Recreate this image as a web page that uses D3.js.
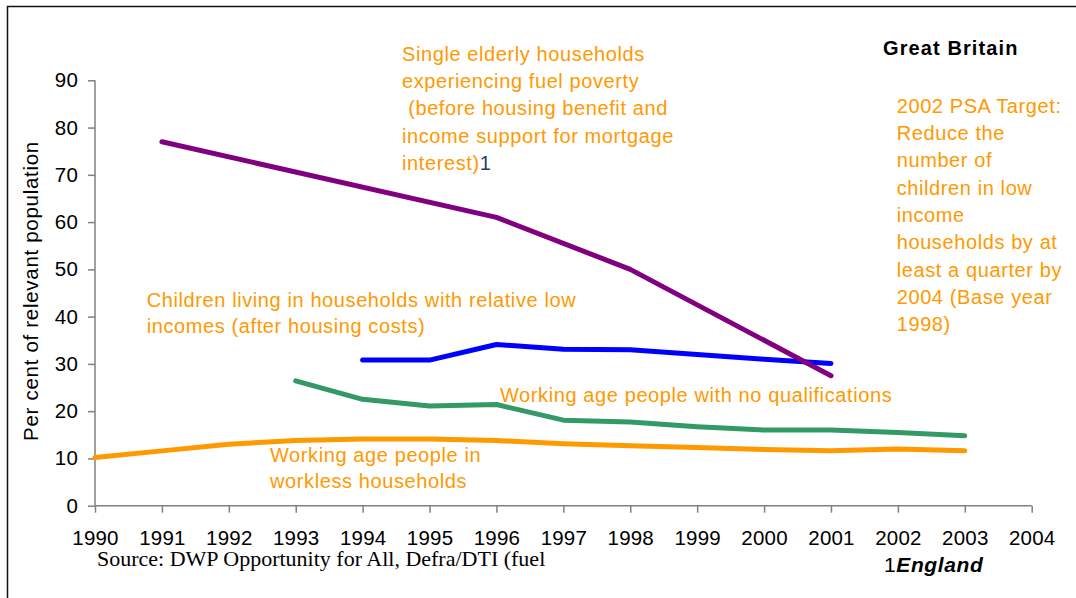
<!DOCTYPE html>
<meta charset="utf-8">
<style>
body { margin: 0; background: #fff; }
svg { display: block; }
text { font-family: Arial, "Liberation Sans", sans-serif; }
.axis path, .axis line { stroke: #808080; stroke-width: 1.5px; }
.axis text { font-size: 20.5px; letter-spacing: 0.2px; fill: #000; }
.note { font-size: 20px; letter-spacing: 0.6px; fill: #ff9900; }
</style>
<svg width="1076" height="598"></svg>
<script src="https://cdn.jsdelivr.net/npm/d3@7"></script>
<script>

var years = d3.range(1990, 2005)
var yTicks = d3.range(0, 100, 10)

// fuel poverty, single elderly households (England)
var fuelYears = [1991, 1996, 1998, 2001]
var fuelVals = [77, 61, 50, 27.5]

// children in low income households (AHC)
var childYears = [1994, 1995, 1996, 1997, 1998, 1999, 2000, 2001]
var childVals = [30.8, 30.8, 34.1, 33.1, 33, 32, 31, 30.1]

// working age with no qualifications
var qualYears = [1993, 1994, 1995, 1996, 1997, 1998, 1999, 2000, 2001, 2002, 2003]
var qualVals = [26.4, 22.5, 21.1, 21.4, 18.1, 17.7, 16.7, 16, 16, 15.5, 14.8]

// working age in workless households
var worklessYears = [1990, 1991, 1992, 1993, 1994, 1995, 1996, 1997, 1998, 1999, 2000, 2001, 2002, 2003]
var worklessVals = [10.2, 11.6, 13, 13.8, 14.1, 14.1, 13.8, 13.1, 12.7, 12.3, 11.9, 11.6, 12, 11.6]

var svg = d3.select("svg")

var x = d3.scaleLinear().domain([1990, 2004]).range([95, 1031.7])
var y = d3.scaleLinear().domain([0, 90]).range([505.7, 80.3])

// frame (only left and top edges show)
svg.append("path")
    .attr("d", "M7.5,598V6.5H1076")
    .attr("fill", "none")
    .attr("stroke", "#111")
    .attr("stroke-width", 1.5)

var yAxis = svg.append("g")
    .attr("class", "axis")
    .attr("transform", "translate(" + x(1990) + ",0)")
    .call(d3.axisLeft(y).tickValues(yTicks).tickSize(7).tickSizeOuter(0).tickPadding(10).tickFormat(d3.format("d")))

var xAxis = svg.append("g")
    .attr("class", "axis")
    .attr("transform", "translate(0," + y(0) + ")")
    .call(d3.axisBottom(x).tickValues(years).tickSize(7).tickSizeOuter(0).tickFormat(d3.format("d")))
xAxis.selectAll("text").attr("y", 39).attr("dy", null)
xAxis.select(".domain").attr("d", "M" + x(1990) + ",0H" + x(2004))
yAxis.select(".domain").attr("d", "M0," + y(90) + "V" + y(0))

svg.append("text")
    .attr("transform", "translate(38,291) rotate(-90)")
    .attr("text-anchor", "middle")
    .style("font-size", "20.5px")
    .style("letter-spacing", "0.7px")
    .text("Per cent of relevant population")

var line = d3.line()
    .x(function(d) { return x(d[0]) })
    .y(function(d) { return y(d[1]) })

var series = [
  {years: worklessYears, vals: worklessVals, color: "#ff9900"},
  {years: qualYears, vals: qualVals, color: "#339966"},
  {years: childYears, vals: childVals, color: "#0000ff"},
  {years: fuelYears, vals: fuelVals, color: "#800080"}
]

svg.append("g").selectAll("path")
    .data(series)
    .enter().append("path")
    .attr("d", function(s) { return line(d3.zip(s.years, s.vals)) })
    .attr("fill", "none")
    .attr("stroke", function(s) { return s.color })
    .attr("stroke-width", 5)
    .attr("stroke-linejoin", "round")
    .attr("stroke-linecap", "round")

function note(xp, yp, lines, step) {
  var t = svg.append("text").attr("class", "note")
  lines.forEach(function(l, i) {
    t.append("tspan").attr("x", xp).attr("y", yp + i * step).text(l)
  })
  return t
}

var fuel = note(402, 60.7, ["Single elderly households", "experiencing fuel poverty",
  "\u00a0(before housing benefit and", "income support for mortgage"], 27.3)
fuel.append("tspan").attr("x", 402).attr("y", 60.7 + 4 * 27.3).text("interest)")
fuel.append("tspan").style("fill", "#1f3f6f").text("1")

note(146.7, 306.7, ["Children living in households with relative low", "incomes (after housing costs)"], 26.6)
note(500, 402, ["Working age people with no qualifications"], 27)
note(270, 461.7, ["Working age people in", "workless households"], 26.6)
note(896.7, 112.7, ["2002 PSA Target:", "Reduce the", "number of", "children in low", "income",
  "households by at", "least a quarter by", "2004 (Base year", "1998)"], 27.3)

svg.append("text")
    .attr("x", 883).attr("y", 55)
    .style("font-size", "20px").style("font-weight", "bold").style("letter-spacing", "1.1px")
    .text("Great Britain")

svg.append("text")
    .attr("x", 97).attr("y", 566)
    .style("font-family", "'Liberation Serif', 'Times New Roman', serif")
    .style("font-size", "22px")
    .text("Source: DWP Opportunity for All, Defra/DTI (fuel")

var eng = svg.append("text")
    .attr("x", 884).attr("y", 571.5)
    .style("font-size", "21px")
    .style("letter-spacing", "0.6px")
eng.append("tspan").text("1")
eng.append("tspan").style("font-weight", "bold").style("font-style", "italic").text("England")

</script>
